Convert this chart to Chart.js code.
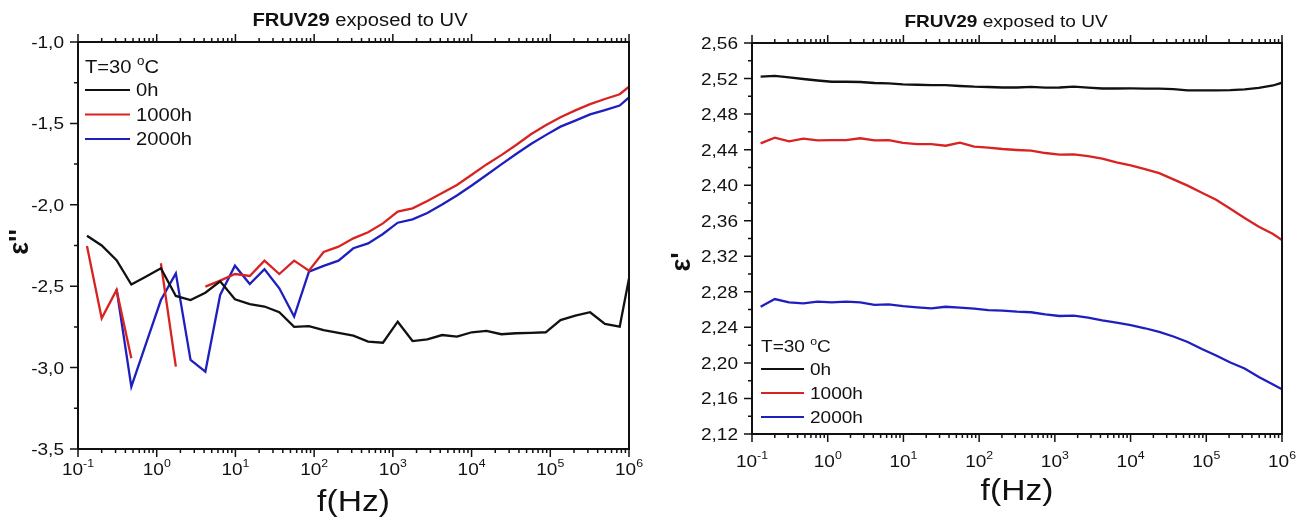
<!DOCTYPE html>
<html>
<head>
<meta charset="utf-8">
<script src="https://cdn.jsdelivr.net/npm/chart.js@4.4.1/dist/chart.umd.min.js"></script>
<style>
  body { margin: 0; background: #fff; }
  #wrap { position: relative; width: 1308px; height: 518px; }
  .panel { position: absolute; top: 0; width: 654px; height: 518px; }
</style>
</head>
<body>
<div id="wrap">
  <div class="panel" style="left:0"><canvas id="chart-loss" width="654" height="518"></canvas></div>
  <div class="panel" style="left:654px"><canvas id="chart-perm" width="654" height="518"></canvas></div>
</div>
<script>
// ── Measured data: FRUV29 exposed to UV, T = 30 °C ──────────
const freqHz = [0.13, 0.2, 0.309, 0.476, 0.735, 1.13, 1.75, 2.69, 4.15, 6.4,
  9.86, 15.2, 23.4, 36.1, 55.7, 85.9, 132, 204, 315, 485,
  748, 1153, 1778, 2742, 4227, 6516, 10046, 15488, 23878, 36813,
  56754, 87498, 134896, 207970, 320627, 494311, 762079, 1000000];

const ageLabels = ["0h", "1000h", "2000h"];
const ageColors = ["#111111", "#d92323", "#1f1fbf"];

// ε'' (log scale values as plotted); null = no reading
const epsLoss0h = [-2.19, -2.25, -2.34, -2.49, -2.44, -2.39, -2.56, -2.585, -2.54, -2.47,
  -2.58, -2.61, -2.625, -2.66, -2.75, -2.745, -2.77, -2.787, -2.804, -2.84,
  -2.847, -2.718, -2.837, -2.826, -2.80, -2.81, -2.783, -2.775, -2.795, -2.789,
  -2.787, -2.783, -2.708, -2.681, -2.66, -2.732, -2.749, -2.452];
const epsLoss1000h = [-2.253, -2.697, -2.523, -2.943, null, -2.359, -2.994, null, -2.503, -2.466,
  -2.425, -2.437, -2.343, -2.425, -2.343, -2.405, -2.29, -2.257, -2.206, -2.169,
  -2.114, -2.042, -2.022, -1.977, -1.928, -1.878, -1.815, -1.752, -1.695, -1.633,
  -1.567, -1.512, -1.462, -1.42, -1.382, -1.35, -1.321, -1.275];
const epsLoss2000h = [null, null, -2.517, -3.117, -2.85, -2.585, -2.421, -2.953, -3.025, -2.554,
  -2.374, -2.487, -2.396, -2.513, -2.687, -2.411, -2.375, -2.343, -2.267, -2.237,
  -2.179, -2.11, -2.089, -2.05, -1.998, -1.943, -1.881, -1.817, -1.752, -1.688,
  -1.627, -1.572, -1.52, -1.483, -1.445, -1.418, -1.39, -1.34];

// ε'
const epsReal0h = [2.5221, 2.5229, 2.5212, 2.5195, 2.5178, 2.5164, 2.5164, 2.5161, 2.515, 2.5146,
  2.5135, 2.513, 2.5127, 2.5125, 2.5116, 2.5108, 2.5105, 2.5099, 2.5099, 2.5107,
  2.5097, 2.5099, 2.511, 2.5098, 2.5088, 2.5088, 2.5089, 2.5087, 2.5086, 2.5082,
  2.5068, 2.5068, 2.5068, 2.5069, 2.5077, 2.5094, 2.5122, 2.5153];
const epsReal1000h = [2.4471, 2.4534, 2.4494, 2.4523, 2.4505, 2.4508, 2.4508, 2.4528, 2.4505, 2.4508,
  2.4475, 2.4463, 2.4463, 2.4444, 2.4478, 2.4433, 2.4422, 2.4407, 2.4396, 2.4388,
  2.4362, 2.4343, 2.4347, 2.4328, 2.4298, 2.4257, 2.4222, 2.418, 2.4135, 2.4065,
  2.3995, 2.3915, 2.3835, 2.3735, 2.3631, 2.3533, 2.345, 2.3383];
const epsReal2000h = [2.2632, 2.2719, 2.2682, 2.2671, 2.2689, 2.2682, 2.2689, 2.2682, 2.2652, 2.2659,
  2.264, 2.2626, 2.2614, 2.2632, 2.2621, 2.261, 2.2595, 2.2588, 2.2576, 2.257,
  2.2547, 2.2528, 2.2532, 2.2509, 2.2479, 2.2453, 2.2424, 2.239, 2.235, 2.2297,
  2.2235, 2.2156, 2.2083, 2.2004, 2.1937, 2.1841, 2.1757, 2.1703];

// ── Axis ticks ──────────────────────────────────────────────
const decades = [-1, 0, 1, 2, 3, 4, 5, 6];
const lossTicks = [-1.0, -1.5, -2.0, -2.5, -3.0, -3.5];
const permTicks = [2.56, 2.52, 2.48, 2.44, 2.40, 2.36, 2.32, 2.28, 2.24, 2.20, 2.16, 2.12];

// ── Text helpers (Origin-style labels, slightly wide glyphs) ─
const FONT = "'Liberation Sans', Arial, sans-serif";
const SX = 1.12;

function textW(ctx, s) {
  return ctx.measureText(s).width * SX;
}

function putText(ctx, s, x, y, align) {
  const w = textW(ctx, s);
  const x0 = align === "right" ? x - w : align === "center" ? x - w / 2 : x;
  ctx.save();
  ctx.translate(x0, y);
  ctx.scale(SX, 1);
  ctx.textAlign = "left";
  ctx.fillText(s, 0, 0);
  ctx.restore();
  return w;
}

// "10" with a raised exponent, centred on x
function decadeLabel(ctx, exp, x, y, size) {
  const sup = String(exp);
  ctx.font = `${size}px ${FONT}`;
  const wb = textW(ctx, "10");
  ctx.font = `${Math.round(size * 0.65)}px ${FONT}`;
  const ws = textW(ctx, sup);
  const x0 = x - (wb + ws) / 2;
  ctx.font = `${size}px ${FONT}`;
  putText(ctx, "10", x0, y, "left");
  ctx.font = `${Math.round(size * 0.65)}px ${FONT}`;
  putText(ctx, sup, x0 + wb, y - size * 0.47, "left");
}

// ── Frame, ticks, labels, title and legend ──────────────────
function makeDecor(cfg) {
  return {
    id: "decor",
    afterDraw(chart) {
      const ctx = chart.ctx;
      const a = chart.chartArea;
      const xs = chart.scales.x;
      const ys = chart.scales.y;
      ctx.save();
      ctx.fillStyle = "#111";
      ctx.strokeStyle = "#111";
      ctx.textBaseline = "alphabetic";

      // box
      ctx.lineWidth = 2;
      ctx.strokeRect(a.left, a.top, a.right - a.left, a.bottom - a.top);

      // x ticks: bottom and top, outward
      ctx.lineWidth = 1.5;
      ctx.beginPath();
      decades.forEach((e, di) => {
        for (let k = 1; k <= 9; k++) {
          if (di === decades.length - 1 && k > 1) break;
          const px = xs.getPixelForValue(k * Math.pow(10, e));
          const len = k === 1 ? 8 : 4;
          ctx.moveTo(px, a.bottom);
          ctx.lineTo(px, a.bottom + len);
          ctx.moveTo(px, a.top);
          ctx.lineTo(px, a.top - len);
        }
      });
      // y ticks: left side only, one minor between majors
      const ticks = cfg.yTicks;
      ticks.forEach((v, i) => {
        const py = ys.getPixelForValue(v);
        ctx.moveTo(a.left, py);
        ctx.lineTo(a.left - 8, py);
        if (i < ticks.length - 1) {
          const pm = ys.getPixelForValue((v + ticks[i + 1]) / 2);
          ctx.moveTo(a.left, pm);
          ctx.lineTo(a.left - 4, pm);
        }
      });
      ctx.stroke();

      // y tick labels
      ctx.font = `${cfg.tickSize}px ${FONT}`;
      ticks.forEach(v => {
        const py = ys.getPixelForValue(v);
        putText(ctx, v.toFixed(cfg.digits).replace(".", ","), a.left - 14, py + 6, "right");
      });

      // x tick labels
      decades.forEach(e => {
        decadeLabel(ctx, e, xs.getPixelForValue(Math.pow(10, e)), cfg.xLabelY, cfg.tickSize);
      });

      // x axis title
      ctx.font = `${cfg.axisTitleSize}px ${FONT}`;
      putText(ctx, "f(Hz)", (a.left + a.right) / 2, cfg.xTitleY, "center");

      // y axis title (rotated)
      ctx.save();
      ctx.translate(cfg.yTitleX, cfg.yTitleY);
      ctx.rotate(-Math.PI / 2);
      ctx.font = `bold 27px ${FONT}`;
      ctx.textAlign = "center";
      ctx.fillText(cfg.yTitle, 0, 0);
      ctx.restore();

      // chart title: bold sample code + plain text
      ctx.font = `bold ${cfg.titleSize}px ${FONT}`;
      const wb = textW(ctx, "FRUV29");
      ctx.font = `${cfg.titleSize}px ${FONT}`;
      const wr = textW(ctx, " exposed to UV");
      let tx = cfg.titleX - (wb + wr) / 2;
      ctx.font = `bold ${cfg.titleSize}px ${FONT}`;
      tx += putText(ctx, "FRUV29", tx, cfg.titleY, "left");
      ctx.font = `${cfg.titleSize}px ${FONT}`;
      putText(ctx, " exposed to UV", tx, cfg.titleY, "left");

      // legend
      const lg = cfg.legend;
      ctx.font = `${lg.size}px ${FONT}`;
      let lx = lg.x;
      lx += putText(ctx, "T=30 ", lx, lg.headY, "left");
      ctx.font = `${Math.round(lg.size * 0.65)}px ${FONT}`;
      lx += putText(ctx, "o", lx, lg.headY - lg.size * 0.42, "left");
      ctx.font = `${lg.size}px ${FONT}`;
      putText(ctx, "C", lx, lg.headY, "left");
      chart.data.datasets.forEach((ds, i) => {
        const cy = lg.rowY + i * lg.gap;
        ctx.strokeStyle = ds.borderColor;
        ctx.lineWidth = 2;
        ctx.beginPath();
        ctx.moveTo(lg.x, cy);
        ctx.lineTo(lg.x + lg.lineLen, cy);
        ctx.stroke();
        putText(ctx, ds.label, lg.x + lg.lineLen + 6, cy + lg.size * 0.36, "left");
      });
      ctx.restore();
    }
  };
}

function lineSet(label, values, color) {
  return {
    label: label,
    data: freqHz.map((f, i) => ({ x: f, y: values[i] })),
    borderColor: color,
    backgroundColor: color,
    borderWidth: 2.3,
    pointRadius: 0,
    tension: 0,
    spanGaps: false
  };
}

function buildChart(id, series, yMin, yMax, pad, decor) {
  return new Chart(document.getElementById(id), {
    type: "line",
    data: {
      datasets: series.map((vals, i) => lineSet(ageLabels[i], vals, ageColors[i]))
    },
    plugins: [makeDecor(decor)],
    options: {
      responsive: false,
      animation: false,
      devicePixelRatio: 1,
      events: [],
      layout: { padding: pad },
      plugins: { legend: { display: false }, tooltip: { enabled: false } },
      scales: {
        x: { type: "logarithmic", min: 0.1, max: 1e6, display: false },
        y: { type: "linear", min: yMin, max: yMax, display: false }
      }
    }
  });
}

// ε'' vs f
buildChart("chart-loss", [epsLoss0h, epsLoss1000h, epsLoss2000h], -3.5, -1.0,
  { left: 78, top: 42, right: 25, bottom: 69 },
  {
    yTicks: lossTicks, digits: 1, tickSize: 17, xLabelY: 475,
    axisTitleSize: 30, xTitleY: 511, yTitle: "ε''", yTitleX: 28, yTitleY: 242,
    titleSize: 18, titleX: 360, titleY: 26,
    legend: { x: 85, size: 18, headY: 73, rowY: 90, gap: 24.5, lineLen: 45 }
  });

// ε' vs f
buildChart("chart-perm", [epsReal0h, epsReal1000h, epsReal2000h], 2.12, 2.56,
  { left: 98, top: 43, right: 26, bottom: 84 },
  {
    yTicks: permTicks, digits: 2, tickSize: 17, xLabelY: 467,
    axisTitleSize: 30, xTitleY: 500, yTitle: "ε'", yTitleX: 36, yTitleY: 262,
    titleSize: 17, titleX: 352, titleY: 27,
    legend: { x: 107, size: 17, headY: 352, rowY: 369, gap: 24, lineLen: 43 }
  });
</script>
</body>
</html>
